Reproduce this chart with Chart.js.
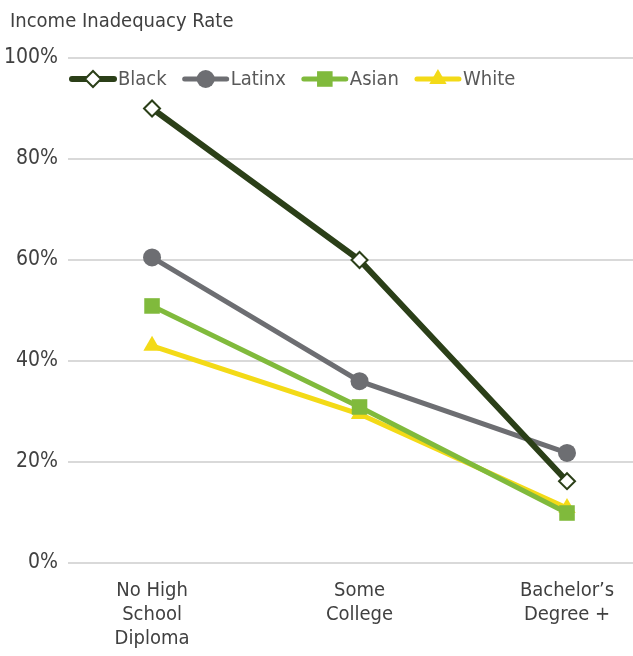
<!DOCTYPE html>
<html>
<head>
<meta charset="utf-8">
<script src="https://cdn.jsdelivr.net/npm/chart.js@4"></script>
<style>
  html, body { margin: 0; padding: 0; background: #ffffff; overflow: hidden; }
  #wrap { width: 633px; height: 656px; position: relative; }
  canvas { display: block; }
</style>
</head>
<body>
<div id="wrap"><canvas id="incomeChart"></canvas></div>
<script>
const FONT = '"DejaVu Sans Condensed", "DejaVu Sans", sans-serif';
const TEXT = '#404040';
const TITLE = 'Income Inadequacy Rate';

// Data
const categories = [['No High', 'School', 'Diploma'], ['Some', 'College'], ['Bachelor\u2019s', 'Degree +']];
const seriesNames = ['Black', 'Latinx', 'Asian', 'White'];
const blackValues = [90, 60, 16.2];
const latinxValues = [60.5, 36, 21.8];
const asianValues = [50.9, 30.9, 9.9];
const whiteValues = [43, 29.5, 10.9];
const yTicks = [0, 20, 40, 60, 80, 100];

const styles = [
    { color: '#2b3f18', width: 6, point: 'rectRot', radius: 8, fill: '#ffffff', border: 2 },
    { color: '#6d6e72', width: 5, point: 'circle', radius: 9, fill: '#6d6e72', border: 0 },
    { color: '#80ba3c', width: 5, point: 'rect', radius: 11, fill: '#80ba3c', border: 0 },
    { color: '#f3da17', width: 5, point: 'triangle', radius: 10, fill: '#f3da17', border: 0 }
];
const allValues = [blackValues, latinxValues, asianValues, whiteValues];

const datasets = seriesNames.map((name, i) => ({
    label: name,
    data: allValues[i].map((v, j) => ({ x: j, y: v })),
    borderColor: styles[i].color,
    borderWidth: styles[i].width,
    pointStyle: styles[i].point,
    pointRadius: styles[i].radius,
    pointBackgroundColor: styles[i].fill,
    pointBorderColor: styles[i].color,
    pointBorderWidth: styles[i].border,
    tension: 0
}));

// title + legend drawn by hand (legend sits inside the plot area)
const lineLegend = {
    id: 'lineLegend',
    afterDatasetsDraw(chart) {
        const ctx = chart.ctx;
        const area = chart.chartArea;
        ctx.save();
        ctx.textBaseline = 'middle';
        ctx.fillStyle = TEXT;
        ctx.font = '20px ' + FONT;
        ctx.fillText(TITLE, 10, 22);

        let x = area.left + 2;
        const y = area.top + 21;
        ctx.font = '20px ' + FONT;
        chart.data.datasets.forEach((ds, i) => {
            const s = styles[i];
            const w = 46;
            ctx.strokeStyle = s.color;
            ctx.lineWidth = s.width;
            ctx.lineCap = 'round';
            ctx.beginPath();
            ctx.moveTo(x + 2, y);
            ctx.lineTo(x + w - 2, y);
            ctx.stroke();
            ctx.fillStyle = s.fill;
            ctx.strokeStyle = s.color;
            ctx.lineWidth = s.border;
            Chart.helpers.drawPoint(ctx, {
                pointStyle: s.point,
                radius: s.radius,
                borderWidth: s.border
            }, x + w / 2, y);
            ctx.fillStyle = '#595959';
            ctx.fillText(ds.label, x + w + 2, y + 1);
            x += w + 2 + ctx.measureText(ds.label).width + 16;
        });
        ctx.restore();
    }
};

new Chart(document.getElementById('incomeChart'), {
    type: 'line',
    data: { datasets },
    plugins: [lineLegend],
    options: {
        responsive: true,
        maintainAspectRatio: false,
        animation: false,
        layout: { autoPadding: false, padding: { top: 58, right: 0, left: 0, bottom: 0 } },
        plugins: {
            legend: { display: false },
            tooltip: { enabled: false },
            title: { display: false }
        },
        scales: {
            x: {
                type: 'linear',
                min: -0.405,
                max: 2.318,
                afterBuildTicks: (scale) => { scale.ticks = categories.map((c, i) => ({ value: i })); },
                grid: { display: false },
                border: { display: false },
                ticks: {
                    autoSkip: false,
                    maxRotation: 0,
                    color: TEXT,
                    padding: 8,
                    font: { family: FONT, size: 20, lineHeight: 1.2 },
                    callback: (v) => categories[v]
                },
                afterFit: (scale) => {
                    scale.height = 93;
                    scale.paddingLeft = 0;
                    scale.paddingRight = 0;
                }
            },
            y: {
                min: 0,
                max: 100,
                afterBuildTicks: (scale) => { scale.ticks = yTicks.map(v => ({ value: v })); },
                grid: { color: '#d9d9d9', lineWidth: 2, drawTicks: false },
                border: { display: false },
                ticks: {
                    color: TEXT,
                    padding: 10,
                    font: { family: FONT, size: 21 },
                    callback: (v) => v + '%'
                },
                afterFit: (scale) => { scale.width = 68; }
            }
        }
    }
});
</script>
</body>
</html>
